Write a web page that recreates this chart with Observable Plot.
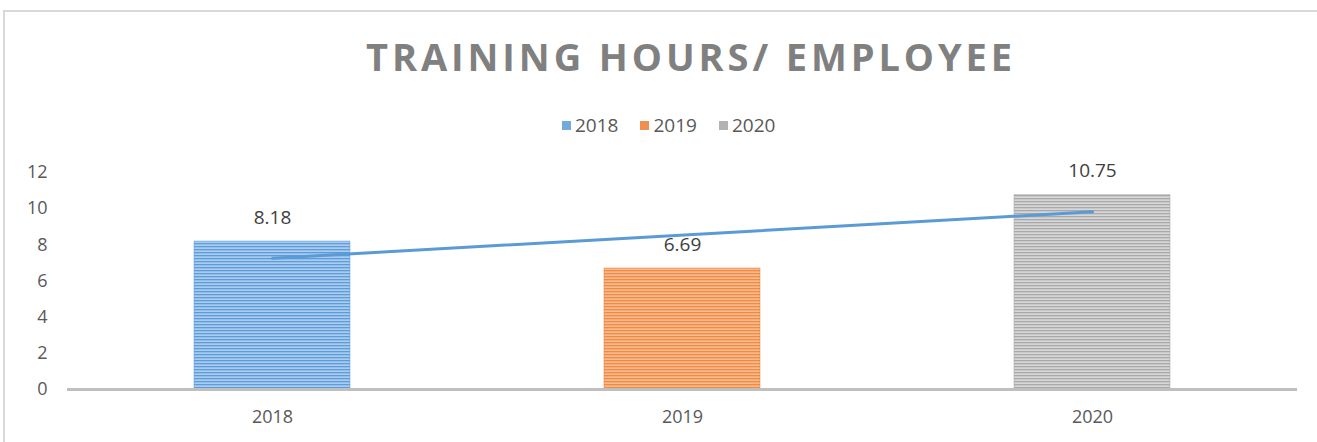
<!DOCTYPE html>
<html>
<head>
<meta charset="utf-8">
<script src="https://cdn.jsdelivr.net/npm/d3@7"></script>
<script src="https://cdn.jsdelivr.net/npm/@observablehq/plot@0.6"></script>
<style>
  html, body { margin: 0; padding: 0; background: #fff; }
  body { width: 1317px; height: 442px; position: relative; overflow: hidden; font-family: "Open Sans", sans-serif; }
  #frame { position: absolute; left: 3px; top: 10px; width: 1400px; height: 500px; border-top: 2px solid #d9d9d9; border-left: 2px solid #d9d9d9; }
  #title { position: absolute; left: 0; width: 1382px; top: 30px; text-align: center; font-size: 38px; font-weight: 700; color: #808080; letter-spacing: 3.9px; }
  #legend { position: absolute; left: 562px; top: 113px; display: flex; gap: 22px; font-size: 19px; color: #595959; }
  .item { display: flex; align-items: center; gap: 4px; line-height: 24px; }
  .sw { width: 9px; height: 9px; display: inline-block; }
  #chart { position: absolute; left: 0; top: 150px; }
</style>
</head>
<body>
<div id="frame"></div>
<div id="title">TRAINING HOURS/ EMPLOYEE</div>
<div id="legend"></div>
<div id="chart"></div>
<script>
const years = ["2018", "2019", "2020"];
const hours = [8.18, 6.69, 10.75];
const yTicks = [0, 2, 4, 6, 8, 10, 12];
const lightColors = ["#a9cdf0", "#f9bb8c", "#d7d7d7"];
const darkColors = ["#5f9bd8", "#ee8a45", "#a9a9a9"];
const baseColors = ["#5b9bd5", "#ed7d31", "#a5a5a5"];

const rows = years.map((y, i) => ({year: y, hours: hours[i], pat: `url(#pat${y})`, idx: i}));

// least-squares trend on category index
const n = hours.length;
const mx = d3.mean(d3.range(n)), my = d3.mean(hours);
const slope = d3.sum(d3.range(n), i => (i - mx) * (hours[i] - my)) / d3.sum(d3.range(n), i => (i - mx) ** 2);
const trend = years.map((y, i) => ({year: y, v: my + slope * (i - mx)}));
const trendEnds = [trend[0], trend[n - 1]];

// legend
const leg = document.getElementById("legend");
years.forEach((y, i) => {
  const it = document.createElement("div");
  it.className = "item";
  it.innerHTML = `<span class="sw" style="background:${baseColors[i]};opacity:0.85"></span><span>${y}</span>`;
  leg.appendChild(it);
});

const chart = Plot.plot({
  width: 1317,
  height: 292,
  marginTop: 22,
  marginBottom: 53,
  marginLeft: 67,
  marginRight: 20,
  style: {fontFamily: "Open Sans, sans-serif", color: "#595959", background: "transparent"},
  x: {domain: years, paddingInner: 0.62, paddingOuter: 0.31, label: null, tickSize: 0, tickPadding: 21},
  y: {domain: [0, 12], ticks: yTicks, label: null, tickSize: 0, tickPadding: 20},
  color: {type: "identity"},
  marks: [
    Plot.barY(rows, {x: "year", y: "hours", fill: "pat", stroke: (d) => baseColors[d.idx], strokeOpacity: 0.5, strokeWidth: 1}),
    Plot.ruleY([0], {stroke: "#bfbfbf", strokeWidth: 3}),
    Plot.lineY(trendEnds, {x: "year", y: "v", stroke: "#5b9bd5", strokeWidth: 3}),
    Plot.text(rows, {x: "year", y: "hours", text: d => d.hours.toFixed(2), dy: -24, fontSize: 19, fill: "#404040"})
  ]
});

// stripe patterns
const ns = "http://www.w3.org/2000/svg";
const defs = document.createElementNS(ns, "defs");
years.forEach((y, i) => {
  const p = document.createElementNS(ns, "pattern");
  p.setAttribute("id", `pat${y}`);
  p.setAttribute("patternUnits", "userSpaceOnUse");
  p.setAttribute("width", 8);
  p.setAttribute("height", 3);
  const r = document.createElementNS(ns, "rect");
  r.setAttribute("width", 8); r.setAttribute("height", 3); r.setAttribute("fill", lightColors[i]);
  const l = document.createElementNS(ns, "rect");
  l.setAttribute("y", 0); l.setAttribute("width", 8); l.setAttribute("height", 1.3); l.setAttribute("fill", darkColors[i]);
  p.appendChild(r); p.appendChild(l);
  defs.appendChild(p);
});
chart.insertBefore(defs, chart.firstChild);
const xs = chart.querySelector("g[aria-label='x-axis tick label']");
if (xs) xs.setAttribute("font-size", 18);
const ys = chart.querySelector("g[aria-label='y-axis tick label']");
if (ys) ys.setAttribute("font-size", 18);
document.getElementById("chart").appendChild(chart);
</script>
</body>
</html>
